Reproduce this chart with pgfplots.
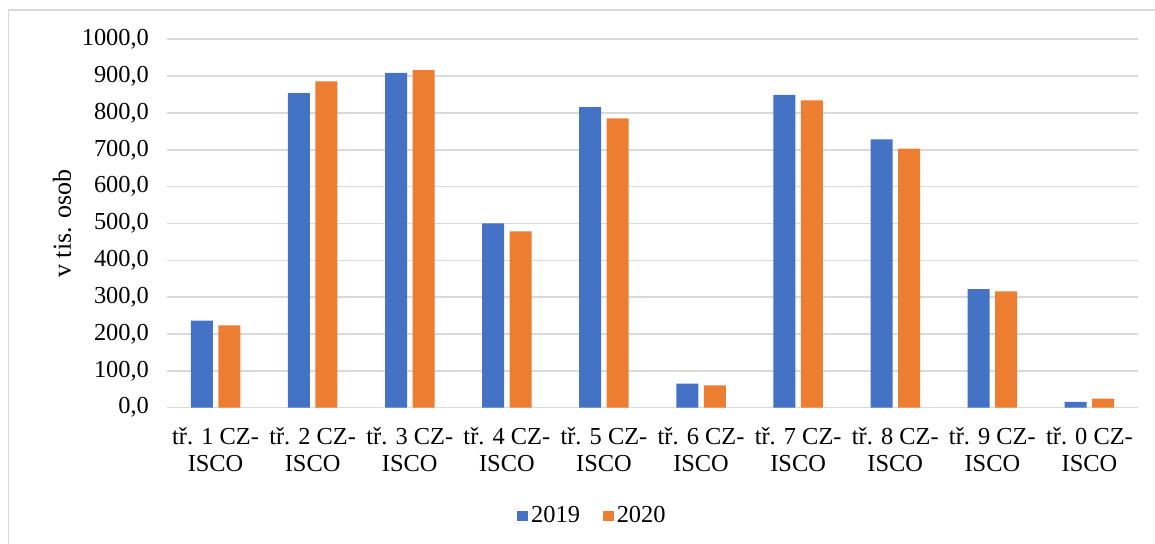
\documentclass[border=0pt]{standalone}
\usepackage{pgfplots}
\pgfplotsset{compat=1.18}
\usepackage{fontspec}
\setmainfont{Liberation Serif}

\definecolor{blue19}{HTML}{4472C4}
\definecolor{orange20}{HTML}{ED7D31}
\definecolor{gridgray}{HTML}{D9D9D9}

\pgfplotstableread{
x   y2019  y2020
0   236.0  223.6
1   854.0  886.0
2   908.5  916.0
3   500.5  478.8
4   816.0  785.0
5    65.0   60.8
6   849.0  834.0
7   728.5  703.0
8   322.0  316.0
9    15.5   24.5
}\zamestnani

\begin{document}
\begin{tikzpicture}[font=\fontsize{12.2}{13.6}\selectfont]
\useasboundingbox (0,0) rectangle (577.5pt,272pt);
% outer chart frame
\draw[gridgray, line width=0.8pt] (4.25pt,-2pt) -- (4.25pt,267pt) -- (590pt,267pt);
\begin{axis}[
  at={(83.5pt,68.15pt)}, anchor=south west,
  scale only axis,
  width=485.5pt, height=184.2pt,
  ybar=2.75pt, bar width=11pt,
  xmin=-0.5, xmax=9.5,
  ymin=0, ymax=1000,
  xtick={0,...,9},
  xticklabels={{tř. 1 CZ-\\ISCO},{tř. 2 CZ-\\ISCO},{tř. 3 CZ-\\ISCO},{tř. 4 CZ-\\ISCO},{tř. 5 CZ-\\ISCO},{tř. 6 CZ-\\ISCO},{tř. 7 CZ-\\ISCO},{tř. 8 CZ-\\ISCO},{tř. 9 CZ-\\ISCO},{tř. 0 CZ-\\ISCO}},
  xticklabel style={align=center, yshift=-6.5pt},
  ytick={0,100,...,1000},
  yticklabel style={xshift=-5.5pt},
  /pgf/number format/.cd, fixed, fixed zerofill, precision=1, use comma, 1000 sep={}, assume math mode=true,
  /pgfplots/.cd,
  major tick length=0pt,
  axis line style={draw=none},
  ymajorgrids,
  grid style={gridgray, line width=0.8pt},
  ylabel={v tis. osob},
  every axis y label/.style={at={(axis description cs:0,0.5)}, xshift=-52.5pt, rotate=90, anchor=center,
    font=\fontsize{13}{15}\selectfont},
  legend style={at={(axis description cs:0.4387,-0.294)}, anchor=center, draw=none, fill=none,
    legend columns=2, inner sep=0pt,
    /tikz/every even column/.append style={column sep=10pt},
    nodes={inner sep=1.5pt}},
  legend image code/.code={\fill[#1] (0pt,-2.7pt) rectangle (5.4pt,2.7pt);},
]
\addplot[fill=blue19, draw=none] table[x=x, y=y2019] {\zamestnani};
\addplot[fill=orange20, draw=none] table[x=x, y=y2020] {\zamestnani};
\legend{2019,2020}
\end{axis}
\end{tikzpicture}
\end{document}
